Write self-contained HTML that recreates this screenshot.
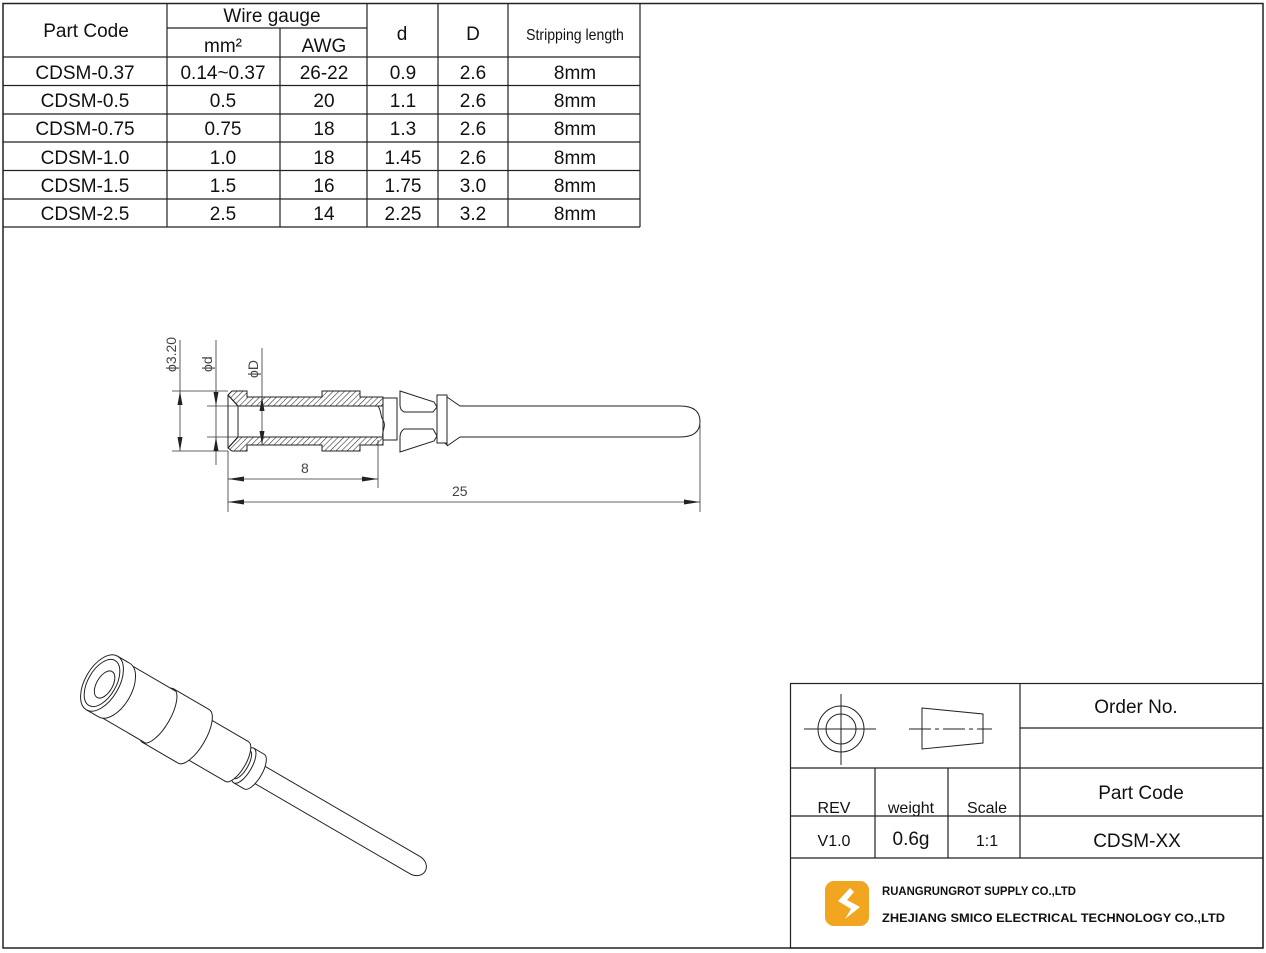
<!DOCTYPE html>
<html><head><meta charset="utf-8"><style>
html,body{margin:0;padding:0;background:#fff;}
body{width:1266px;height:953px;position:relative;overflow:hidden;font-family:"Liberation Sans",sans-serif;}
svg{position:absolute;left:0;top:0;}
</style></head><body>
<svg width="1266" height="953" viewBox="0 0 1266 953" xmlns="http://www.w3.org/2000/svg" font-family="Liberation Sans, sans-serif">
<defs>
<pattern id="h" width="4" height="4" patternUnits="userSpaceOnUse" patternTransform="rotate(45)">
<rect width="4" height="4" fill="#fff"/><line x1="0" y1="0" x2="0" y2="4" stroke="#333" stroke-width="1.2"/>
</pattern>
</defs>
<rect x="3" y="3.5" width="1260" height="944.5" fill="none" stroke="#222" stroke-width="1.5"/>
<g stroke="#222" stroke-width="1.2" fill="none">
<line x1="3" y1="57" x2="640" y2="57"/>
<line x1="3" y1="85.5" x2="640" y2="85.5"/>
<line x1="3" y1="114" x2="640" y2="114"/>
<line x1="3" y1="142" x2="640" y2="142"/>
<line x1="3" y1="170.5" x2="640" y2="170.5"/>
<line x1="3" y1="199" x2="640" y2="199"/>
<line x1="3" y1="227" x2="640" y2="227"/>
<line x1="167" y1="28" x2="367" y2="28"/>
<line x1="167" y1="4" x2="167" y2="227"/>
<line x1="280" y1="28" x2="280" y2="227"/>
<line x1="367" y1="4" x2="367" y2="227"/>
<line x1="438" y1="4" x2="438" y2="227"/>
<line x1="508" y1="4" x2="508" y2="227"/>
<line x1="640" y1="4" x2="640" y2="227"/>
</g>
<g font-size="19" fill="#111" text-anchor="middle">
<text x="86" y="37">Part Code</text>
<text x="272" y="22">Wire gauge</text>
<text x="223" y="52">mm²</text>
<text x="324" y="52">AWG</text>
<text x="402" y="40">d</text>
<text x="473" y="40">D</text>
<text x="575" y="40" font-size="16" transform="translate(575 0) scale(0.88 1) translate(-575 0)">Stripping length</text>
<g>
<text x="85" y="79">CDSM-0.37</text><text x="223" y="79">0.14~0.37</text><text x="324" y="79">26-22</text><text x="403" y="79">0.9</text><text x="473" y="79">2.6</text><text x="575" y="79">8mm</text>
<text x="85" y="107">CDSM-0.5</text><text x="223" y="107">0.5</text><text x="324" y="107">20</text><text x="403" y="107">1.1</text><text x="473" y="107">2.6</text><text x="575" y="107">8mm</text>
<text x="85" y="135">CDSM-0.75</text><text x="223" y="135">0.75</text><text x="324" y="135">18</text><text x="403" y="135">1.3</text><text x="473" y="135">2.6</text><text x="575" y="135">8mm</text>
<text x="85" y="164">CDSM-1.0</text><text x="223" y="164">1.0</text><text x="324" y="164">18</text><text x="403" y="164">1.45</text><text x="473" y="164">2.6</text><text x="575" y="164">8mm</text>
<text x="85" y="192">CDSM-1.5</text><text x="223" y="192">1.5</text><text x="324" y="192">16</text><text x="403" y="192">1.75</text><text x="473" y="192">3.0</text><text x="575" y="192">8mm</text>
<text x="85" y="220">CDSM-2.5</text><text x="223" y="220">2.5</text><text x="324" y="220">14</text><text x="403" y="220">2.25</text><text x="473" y="220">3.2</text><text x="575" y="220">8mm</text>
</g>
</g>

<g stroke="#222" stroke-width="1" fill="none">
<path d="M228,395 L232,391 L247,391 L247,397 L322,397 L322,391 L360,391 L360,397 L383,397 L383,406 L238,406 Z" fill="url(#h)"/>
<path d="M228,448 L232,451 L247,451 L247,445 L322,445 L322,451 L360,451 L360,445 L383,445 L383,437 L238,437 Z" fill="url(#h)"/>
<line x1="238" y1="406" x2="238" y2="437"/>
<line x1="238" y1="406" x2="228" y2="395"/>
<line x1="238" y1="437" x2="228" y2="448"/>
<line x1="228" y1="395" x2="228" y2="448"/>
<path d="M378,406 C382,412 380,416 383,420 C387,426 381,432 383,437" />
<rect x="383" y="398" width="14" height="42"/>
<path d="M400,391 L434,402 L437,407 L433,412 L404,412 Q400,410 400,405 Z" fill="#fff"/>
<path d="M400,452 L434,441 L437,436 L433,429 L404,429 Q400,432 400,437 Z" fill="#fff"/>
<path d="M437,407 L447,398 L447,445 L437,436"/>
<rect x="437" y="395" width="10" height="48" fill="#fff"/>
<path d="M447,397 L460,406 L680,406 Q700,406 700,421.5 Q700,437 680,437 L460,437 L447,446"/>
</g>
<g stroke="#333" stroke-width="0.8" fill="none">
<line x1="172" y1="391" x2="228" y2="391"/>
<line x1="172" y1="451" x2="228" y2="451"/>
<line x1="180" y1="340" x2="180" y2="451"/>
<line x1="207" y1="406" x2="238" y2="406"/>
<line x1="207" y1="437" x2="238" y2="437"/>
<line x1="216" y1="340" x2="216" y2="465"/>
<line x1="262" y1="348" x2="262" y2="445"/>
<line x1="228" y1="451" x2="228" y2="512"/>
<line x1="378" y1="440" x2="378" y2="488"/>
<line x1="700" y1="425" x2="700" y2="512"/>
<line x1="228" y1="479" x2="378" y2="479"/>
<line x1="228" y1="502" x2="700" y2="502"/>
</g>
<g fill="#222">
<path d="M180,391 l-2.5,14 h5 z"/><path d="M180,451 l-2.5,-14 h5 z"/>
<path d="M216,406 l-2.5,-14 h5 z"/><path d="M216,437 l-2.5,14 h5 z"/>
<path d="M262,397 l-2.5,14 h5 z"/><path d="M262,445 l-2.5,-14 h5 z"/>
<path d="M228,479 l16,-2.5 v5 z"/><path d="M378,479 l-16,-2.5 v5 z"/>
<path d="M228,502 l16,-2.5 v5 z"/><path d="M700,502 l-16,-2.5 v5 z"/>
</g>
<g font-size="14" fill="#444" font-family="Liberation Sans Narrow, Liberation Sans, sans-serif">
<text transform="translate(176 372) rotate(-90)">ϕ3.20</text>
<text transform="translate(212 372) rotate(-90)">ϕd</text>
<text transform="translate(258 378) rotate(-90)">ϕD</text>
<text x="301" y="473">8</text>
<text x="452" y="496">25</text>
</g>

<!-- iso view -->
<g transform="translate(102 683) rotate(30.2)" stroke="#222" stroke-width="1" fill="#fff">
<path d="M172,-10 L362,-10 A12,10 0 0 1 362,10 L172,10 Z"/>
<ellipse cx="176" cy="0" rx="8" ry="20"/>
<path d="M164,-20 L176,-20 L176,20 L164,20 Z" stroke="none"/>
<line x1="164" y1="-20" x2="176" y2="-20"/><line x1="164" y1="20" x2="176" y2="20"/>
<ellipse cx="164" cy="0" rx="8" ry="20"/>
<ellipse cx="162" cy="0" rx="6" ry="16" fill="none"/>
<ellipse cx="156" cy="0" rx="9" ry="23"/>
<path d="M106,-23 L156,-23 L156,23 L106,23 Z" stroke="none"/>
<line x1="106" y1="-23" x2="156" y2="-23"/><line x1="106" y1="23" x2="156" y2="23"/>
<path d="M65,-31 L106,-31 A12,31 0 0 1 106,31 L65,31 Z"/>
<ellipse cx="65" cy="0" rx="12" ry="31"/>
<path d="M0,-30 L68,-30 L68,30 L0,30 Z" stroke="none"/>
<line x1="0" y1="-30" x2="68" y2="-30"/><line x1="0" y1="30" x2="68" y2="30"/>
<path d="M0,-31 L14,-31 A17,31 0 0 1 14,31 L0,31 Z"/>
<ellipse cx="0" cy="0" rx="17" ry="31"/>
<ellipse cx="0" cy="0" rx="14" ry="26" fill="none"/>
<ellipse cx="3" cy="0" rx="8" ry="15" fill="none"/>
</g>

<g stroke="#222" stroke-width="1.2" fill="none">
<rect x="790.5" y="683.5" width="472.5" height="264.5"/>
<line x1="790" y1="768" x2="1263" y2="768"/>
<line x1="790" y1="816" x2="1263" y2="816"/>
<line x1="790" y1="858" x2="1263" y2="858"/>
<line x1="1020" y1="683" x2="1020" y2="858"/>
<line x1="1020" y1="728" x2="1263" y2="728"/>
<line x1="875" y1="768" x2="875" y2="858"/>
<line x1="948" y1="768" x2="948" y2="858"/>
</g>
<g stroke="#222" stroke-width="1" fill="none">
<circle cx="841" cy="729" r="23"/><circle cx="841" cy="729" r="15"/>
<line x1="804" y1="729" x2="876" y2="729"/><line x1="841" y1="694" x2="841" y2="765"/>
<path d="M922,708 L983,714 L983,743 L922,749 Z"/>
<line x1="909" y1="729" x2="992" y2="729" stroke-dasharray="22,4,4,4"/>
</g>
<g font-size="19" fill="#111" text-anchor="middle">
<text x="1136" y="713">Order No.</text>
<text x="1141" y="799">Part Code</text>
<text x="1137" y="847">CDSM-XX</text>
<text x="911" y="845">0.6g</text>
<g font-size="16">
<text x="834" y="813">REV</text>
<text x="911" y="813">weight</text>
<text x="987" y="813">Scale</text>
<text x="834" y="846">V1.0</text>
<text x="987" y="846">1:1</text>
</g>
</g>
<rect x="825" y="881" width="44" height="45" rx="9" fill="#f2a51f"/>
<path d="M850,888 L838,901 L851,909 L845,919 L860,907 L847,900 L854,892 Z" fill="#fff"/>
<g font-weight="bold" fill="#111" font-size="11.5">
<text x="882" y="895" textLength="194" lengthAdjust="spacingAndGlyphs">RUANGRUNGROT SUPPLY CO.,LTD</text>
<text x="882" y="922" textLength="343" lengthAdjust="spacingAndGlyphs">ZHEJIANG SMICO ELECTRICAL TECHNOLOGY CO.,LTD</text>
</g>
</svg>
</body></html>
